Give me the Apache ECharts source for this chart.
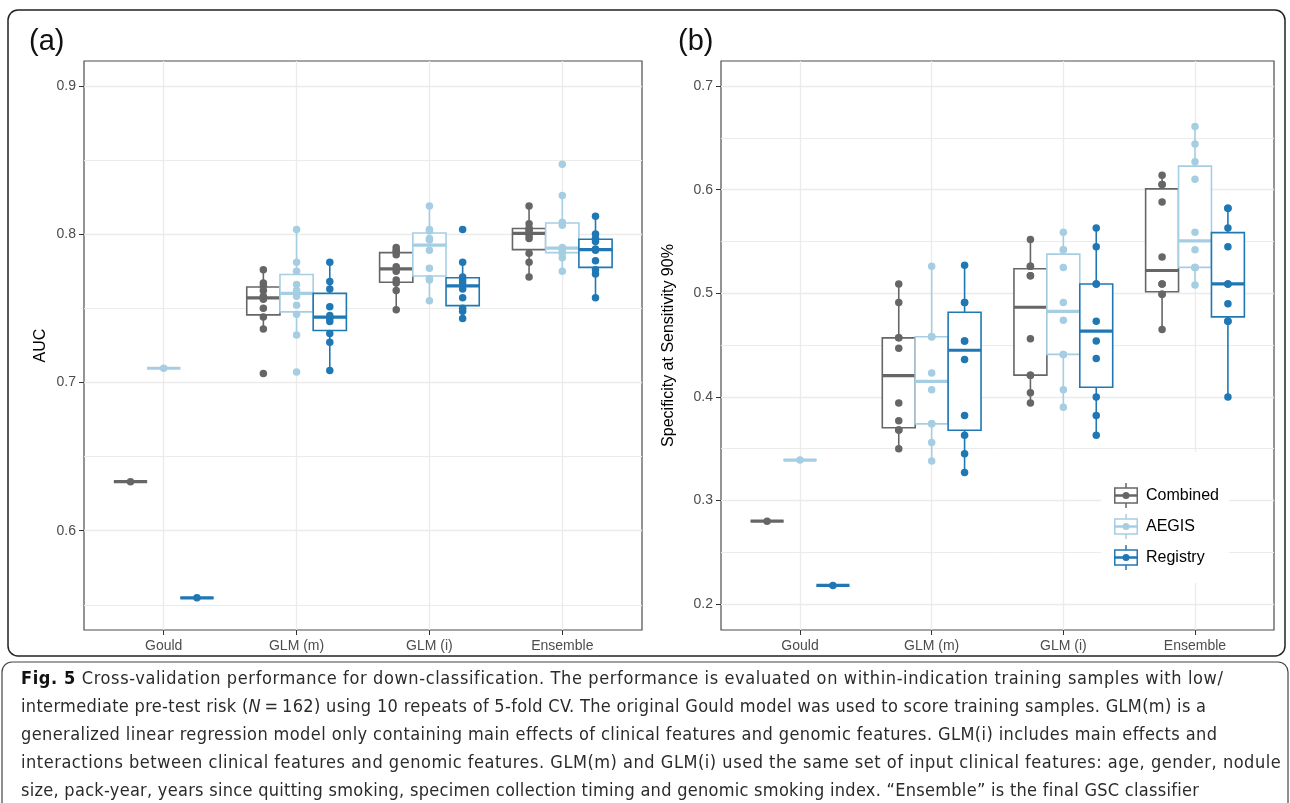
<!DOCTYPE html>
<html>
<head>
<meta charset="utf-8">
<script src="https://cdn.jsdelivr.net/npm/echarts@6/dist/echarts.min.js"></script>
<style>
  html, body { margin: 0; padding: 0; background: #fff; }
  #chart { position: absolute; left: 0; top: 0; width: 1290px; height: 803px; }
  #caption {
    position: absolute; left: 21px; top: 664px;
    font-family: "Liberation Sans Narrow", "DejaVu Sans Condensed", sans-serif;
    font-size: 18px; line-height: 28px; color: #2b2b2b; white-space: nowrap;
  }
  #caption b { font-weight: bold; color: #111; }
  #caption .l1 { letter-spacing: 0.62px; }
  #caption .l2 { letter-spacing: 0.33px; }
  #caption .l3 { letter-spacing: 0.41px; }
  #caption .l4 { letter-spacing: 0.53px; }
  #caption .l5 { letter-spacing: 0.28px; }
</style>
</head>
<body>
<div id="chart"></div>
<div id="caption">
  <div class="l1"><b>Fig. 5</b> Cross-validation performance for down-classification. The performance is evaluated on within-indication training samples with low/</div>
  <div class="l2">intermediate pre-test risk (<i>N</i>&thinsp;=&thinsp;162) using 10 repeats of 5-fold CV. The original Gould model was used to score training samples. GLM(m) is a</div>
  <div class="l3">generalized linear regression model only containing main effects of clinical features and genomic features. GLM(i) includes main effects and</div>
  <div class="l4">interactions between clinical features and genomic features. GLM(m) and GLM(i) used the same set of input clinical features: age, gender, nodule</div>
  <div class="l5">size, pack-year, years since quitting smoking, specimen collection timing and genomic smoking index. “Ensemble” is the final GSC classifier</div>
</div>
<script>
const categories = ['Gould', 'GLM (m)', 'GLM (i)', 'Ensemble'];
const groups = ['Combined', 'AEGIS', 'Registry'];
const colors = ['#666666', '#a6cee3', '#1f78b4'];

// panel (a): AUC, one value per CV repeat
const aucCombined = [
  [0.633],
  [0.706, 0.736, 0.744, 0.750, 0.756, 0.758, 0.762, 0.765, 0.767, 0.776],
  [0.749, 0.762, 0.767, 0.769, 0.775, 0.778, 0.786, 0.788, 0.789, 0.791],
  [0.771, 0.781, 0.787, 0.797, 0.799, 0.802, 0.803, 0.804, 0.807, 0.819]
];
const aucAegis = [
  [0.7095],
  [0.707, 0.732, 0.746, 0.752, 0.758, 0.762, 0.766, 0.775, 0.781, 0.803],
  [0.755, 0.769, 0.770, 0.777, 0.789, 0.796, 0.797, 0.802, 0.803, 0.819],
  [0.775, 0.784, 0.787, 0.789, 0.790, 0.791, 0.806, 0.808, 0.826, 0.847]
];
const aucRegistry = [
  [0.5547],
  [0.708, 0.727, 0.733, 0.741, 0.743, 0.745, 0.751, 0.763, 0.768, 0.781],
  [0.743, 0.748, 0.750, 0.757, 0.763, 0.767, 0.769, 0.771, 0.781, 0.803],
  [0.757, 0.773, 0.776, 0.782, 0.789, 0.790, 0.795, 0.797, 0.800, 0.812]
];

// panel (b): specificity at sensitivity 90%
const specCombined = [
  [0.280],
  [0.350, 0.368, 0.368, 0.377, 0.394, 0.447, 0.457, 0.457, 0.491, 0.509],
  [0.394, 0.404, 0.421, 0.421, 0.456, 0.517, 0.517, 0.526, 0.526, 0.552],
  [0.465, 0.499, 0.499, 0.509, 0.509, 0.535, 0.588, 0.605, 0.605, 0.614]
];
const specAegis = [
  [0.339],
  [0.338, 0.356, 0.374, 0.374, 0.407, 0.423, 0.458, 0.458, 0.458, 0.526],
  [0.390, 0.407, 0.441, 0.441, 0.474, 0.491, 0.525, 0.542, 0.542, 0.559],
  [0.508, 0.525, 0.525, 0.525, 0.542, 0.559, 0.610, 0.627, 0.644, 0.661]
];
const specRegistry = [
  [0.218],
  [0.327, 0.345, 0.363, 0.382, 0.436, 0.454, 0.454, 0.491, 0.491, 0.527],
  [0.363, 0.382, 0.400, 0.437, 0.454, 0.473, 0.509, 0.509, 0.545, 0.563],
  [0.400, 0.473, 0.473, 0.490, 0.509, 0.509, 0.545, 0.563, 0.582, 0.582]
];

const aucTicks = [0.6, 0.7, 0.8, 0.9];
const aucMinor = [0.55, 0.65, 0.75, 0.85];
const specTicks = [0.2, 0.3, 0.4, 0.5, 0.6, 0.7];
const specMinor = [0.25, 0.35, 0.45, 0.55, 0.65];

const BOX_W = 0.25;
const FONT = '"Liberation Sans", Arial, sans-serif';

function quantile(s, p) {
  const h = (s.length - 1) * p;
  const lo = Math.floor(h);
  const hi = Math.min(lo + 1, s.length - 1);
  return s[lo] + (h - lo) * (s[hi] - s[lo]);
}

// ggplot-style box stats: [x, whiskerLow, q1, median, q3, whiskerHigh]
function boxStats(vals, x) {
  const s = vals.slice().sort((a, b) => a - b);
  const q1 = quantile(s, 0.25), med = quantile(s, 0.5), q3 = quantile(s, 0.75);
  const iqr = q3 - q1;
  const inside = s.filter(v => v >= q1 - 1.5 * iqr - 1e-9 && v <= q3 + 1.5 * iqr + 1e-9);
  return [x, inside[0], q1, med, q3, inside[inside.length - 1]];
}

function renderBox(params, api) {
  const x = api.value(0);
  const half = api.size([BOX_W, 0])[0] / 2;
  const lo = api.coord([x, api.value(1)]);
  const q1 = api.coord([x, api.value(2)]);
  const med = api.coord([x, api.value(3)]);
  const q3 = api.coord([x, api.value(4)]);
  const hi = api.coord([x, api.value(5)]);
  const color = api.visual('color');
  const ls = { stroke: color, lineWidth: 1.6 };
  return {
    type: 'group',
    children: [
      { type: 'line', shape: { x1: hi[0], y1: hi[1], x2: q3[0], y2: q3[1] }, style: ls },
      { type: 'line', shape: { x1: q1[0], y1: q1[1], x2: lo[0], y2: lo[1] }, style: ls },
      { type: 'rect', shape: { x: q3[0] - half, y: q3[1], width: half * 2, height: q1[1] - q3[1] },
        style: { stroke: color, lineWidth: 1.6, fill: '#fff' } },
      { type: 'line', shape: { x1: med[0] - half, y1: med[1], x2: med[0] + half, y2: med[1] },
        style: { stroke: color, lineWidth: 3.2 } }
    ]
  };
}

function panelSeries(sets, gridIdx) {
  const out = [];
  sets.forEach((set, g) => {
    const off = (g - 1) * BOX_W;
    out.push({
      name: groups[g], type: 'custom', xAxisIndex: gridIdx, yAxisIndex: gridIdx, z: 2,
      itemStyle: { color: colors[g] },
      renderItem: renderBox,
      data: set.map((vals, i) => boxStats(vals, i + 1 + off))
    });
    const pts = [];
    set.forEach((vals, i) => vals.forEach(v => pts.push([i + 1 + off, v])));
    out.push({
      name: groups[g], type: 'scatter', xAxisIndex: gridIdx, yAxisIndex: gridIdx, z: 3,
      symbolSize: 7.5, itemStyle: { color: colors[g], opacity: 1 },
      data: pts
    });
  });
  return out;
}

function keyIcon(color) {
  const svg = '<svg xmlns="http://www.w3.org/2000/svg" width="24" height="25" viewBox="0 0 24 25">' +
    '<line x1="12" y1="0" x2="12" y2="5" stroke="' + color + '" stroke-width="1.5"/>' +
    '<line x1="12" y1="20" x2="12" y2="25" stroke="' + color + '" stroke-width="1.5"/>' +
    '<rect x="0.75" y="5" width="22.5" height="15" fill="#fff" stroke="' + color + '" stroke-width="1.5"/>' +
    '<line x1="0.75" y1="12.5" x2="23.25" y2="12.5" stroke="' + color + '" stroke-width="2.5"/>' +
    '<circle cx="12" cy="12.5" r="3.5" fill="' + color + '"/></svg>';
  return 'image://data:image/svg+xml;charset=utf-8,' + encodeURIComponent(svg);
}

function xAxisFor(gridIdx) {
  return {
    type: 'value', gridIndex: gridIdx, min: 0.4, max: 4.6,
    axisLine: { show: false },
    axisTick: { show: true, length: 5, customValues: [1, 2, 3, 4], lineStyle: { color: '#333', width: 1 } },
    axisLabel: { customValues: [1, 2, 3, 4], formatter: v => categories[Math.round(v) - 1],
      color: '#4d4d4d', fontSize: 14, fontFamily: FONT, margin: 9 },
    splitLine: { show: true, lineStyle: { color: '#ebebeb', width: 1.3 } }
  };
}

function yAxisFor(gridIdx, min, max, ticks, name, gap) {
  return {
    type: 'value', gridIndex: gridIdx, min: min, max: max,
    name: name, nameLocation: 'middle', nameGap: gap,
    nameTextStyle: { color: '#000', fontSize: 16, fontFamily: FONT },
    axisLine: { show: false },
    axisTick: { show: true, length: 5, customValues: ticks, lineStyle: { color: '#333', width: 1 } },
    axisLabel: { customValues: ticks, formatter: v => v.toFixed(1),
      color: '#4d4d4d', fontSize: 14, fontFamily: FONT, margin: 8 },
    splitLine: { show: true, lineStyle: { color: '#ebebeb', width: 1.3 } }
  };
}

function minorAxisFor(gridIdx, min, max, minor) {
  return {
    type: 'value', gridIndex: gridIdx, min: min, max: max, position: 'left',
    axisLine: { show: false },
    axisTick: { show: false, customValues: minor },
    axisLabel: { show: false, customValues: minor },
    splitLine: { show: true, lineStyle: { color: '#ebebeb', width: 1 } }
  };
}

const chart = echarts.init(document.getElementById('chart'), null, { renderer: 'canvas' });
chart.setOption({
  animation: false,
  backgroundColor: '#fff',
  grid: [
    { left: 84, top: 61, width: 558, height: 569, show: true, borderColor: '#4d4d4d', borderWidth: 1.2, backgroundColor: 'transparent', z: 0 },
    { left: 721, top: 61, width: 553, height: 569, show: true, borderColor: '#4d4d4d', borderWidth: 1.2, backgroundColor: 'transparent', z: 0 }
  ],
  xAxis: [xAxisFor(0), xAxisFor(1)],
  yAxis: [
    yAxisFor(0, 0.533, 0.9167, aucTicks, 'AUC', 35),
    yAxisFor(1, 0.175, 0.7242, specTicks, 'Specificity at Sensitivity 90%', 44),
    minorAxisFor(0, 0.533, 0.9167, aucMinor),
    minorAxisFor(1, 0.175, 0.7242, specMinor)
  ],
  legend: {
    orient: 'vertical', left: 1101, top: 452,
    padding: [31, 10, 13, 13],
    backgroundColor: '#fff',
    itemWidth: 24, itemHeight: 25, itemGap: 6,
    selectedMode: false,
    textStyle: { color: '#000', fontSize: 16, fontFamily: FONT, padding: [0, 0, 0, 3] },
    data: groups.map((g, i) => ({ name: g, icon: keyIcon(colors[i]) }))
  },
  graphic: [
    { type: 'rect', shape: { x: 8, y: 10, width: 1277, height: 646, r: 10 },
      style: { fill: 'none', stroke: '#222', lineWidth: 1.5 }, silent: true },
    { type: 'rect', shape: { x: 2, y: 662, width: 1286, height: 160, r: 10 },
      style: { fill: 'none', stroke: '#444', lineWidth: 1.2 }, silent: true },
    { type: 'text', left: 29, top: 27, style: { text: '(a)', fontSize: 29, fontFamily: FONT, fill: '#111' } },
    { type: 'text', left: 678, top: 27, style: { text: '(b)', fontSize: 29, fontFamily: FONT, fill: '#111' } }
  ],
  series: [].concat(
    panelSeries([aucCombined, aucAegis, aucRegistry], 0),
    panelSeries([specCombined, specAegis, specRegistry], 1)
  )
});
</script>
</body>
</html>
